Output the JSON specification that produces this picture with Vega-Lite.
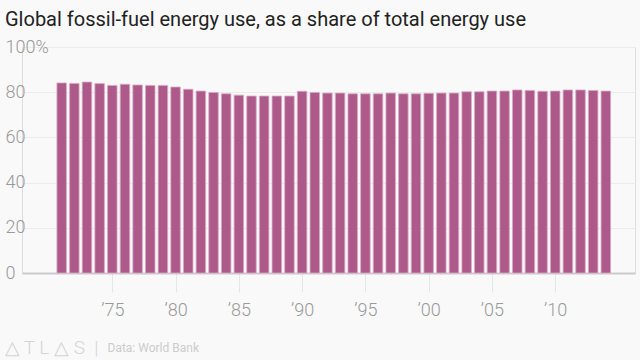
{
  "$schema": "https://vega.github.io/schema/vega-lite/v6.json",
  "width": 613,
  "height": 226,
  "autosize": {"type": "none"},
  "padding": {"left": 22, "top": 47, "right": 5, "bottom": 87},
  "background": "#f9f9f9",
  "title": {
    "text": "Global fossil-fuel energy use, as a share of total energy use",
    "anchor": "start",
    "frame": "group",
    "font": "Roboto",
    "fontSize": 20,
    "fontWeight": "normal",
    "color": "#222222",
    "dx": -17,
    "offset": 8
  },
  "data": {
    "values": [
      {"year": 1971, "share": 84.1},
      {"year": 1972, "share": 83.9},
      {"year": 1973, "share": 84.5},
      {"year": 1974, "share": 83.8},
      {"year": 1975, "share": 83.0},
      {"year": 1976, "share": 83.5},
      {"year": 1977, "share": 83.2},
      {"year": 1978, "share": 83.0},
      {"year": 1979, "share": 83.0},
      {"year": 1980, "share": 82.3},
      {"year": 1981, "share": 81.3},
      {"year": 1982, "share": 80.5},
      {"year": 1983, "share": 79.9},
      {"year": 1984, "share": 79.3},
      {"year": 1985, "share": 78.7},
      {"year": 1986, "share": 78.3},
      {"year": 1987, "share": 78.3},
      {"year": 1988, "share": 78.3},
      {"year": 1989, "share": 78.3},
      {"year": 1990, "share": 80.4},
      {"year": 1991, "share": 79.9},
      {"year": 1992, "share": 79.6},
      {"year": 1993, "share": 79.6},
      {"year": 1994, "share": 79.3},
      {"year": 1995, "share": 79.3},
      {"year": 1996, "share": 79.3},
      {"year": 1997, "share": 79.6},
      {"year": 1998, "share": 79.3},
      {"year": 1999, "share": 79.3},
      {"year": 2000, "share": 79.5},
      {"year": 2001, "share": 79.6},
      {"year": 2002, "share": 79.6},
      {"year": 2003, "share": 80.2},
      {"year": 2004, "share": 80.2},
      {"year": 2005, "share": 80.5},
      {"year": 2006, "share": 80.5},
      {"year": 2007, "share": 81.0},
      {"year": 2008, "share": 80.8},
      {"year": 2009, "share": 80.4},
      {"year": 2010, "share": 80.5},
      {"year": 2011, "share": 81.0},
      {"year": 2012, "share": 81.0},
      {"year": 2013, "share": 80.8},
      {"year": 2014, "share": 80.5}
    ]
  },
  "mark": {"type": "bar", "size": 9.5, "color": "#ad5a8b", "stroke": "#d9a9c4", "strokeWidth": 0.8},
  "encoding": {
    "x": {
      "field": "year",
      "type": "quantitative",
      "scale": {"domain": [1968.26, 2015.91], "nice": false, "zero": false},
      "axis": {
        "values": [1975, 1980, 1985, 1990, 1995, 2000, 2005, 2010],
        "labelExpr": "'’' + substring('' + datum.value, 2)",
        "grid": false,
        "domain": true,
        "domainColor": "#cccccc",
        "domainWidth": 2,
        "ticks": true,
        "tickSize": 19,
        "tickColor": "#e6e6e6",
        "tickWidth": 1,
        "labelFont": "Roboto",
        "labelFontSize": 18,
        "labelFontWeight": 300,
        "labelColor": "#9a9a9a",
        "labelPadding": 9,
        "title": "Data: World Bank",
        "titleFont": "Roboto",
        "titleFontSize": 12,
        "titleFontWeight": "normal",
        "titleColor": "#cccccc",
        "titleAnchor": "start",
        "titleAlign": "left",
        "titleBaseline": "middle",
        "titleX": 85,
        "titleY": 74
      }
    },
    "y": {
      "field": "share",
      "type": "quantitative",
      "scale": {"domain": [0, 100], "nice": false},
      "axis": {
        "values": [0, 20, 40, 60, 80, 100],
        "labelExpr": "datum.value == 100 ? '100%' : datum.label",
        "grid": true,
        "gridColor": "#ececec",
        "gridWidth": 1,
        "domain": false,
        "ticks": false,
        "labelAlign": "left",
        "labelBaseline": "middle",
        "labelPadding": 17,
        "labelFont": "Roboto",
        "labelFontSize": 18,
        "labelFontWeight": 300,
        "labelColor": "#9a9a9a",
        "title": "△ T L △ S\u00a0\u00a0|",
        "titleFont": "Roboto",
        "titleFontSize": 19,
        "titleFontWeight": 300,
        "titleColor": "#d4d4d4",
        "titleAngle": 0,
        "titleAlign": "left",
        "titleBaseline": "middle",
        "titleX": -18,
        "titleY": 300
      }
    }
  }
}
